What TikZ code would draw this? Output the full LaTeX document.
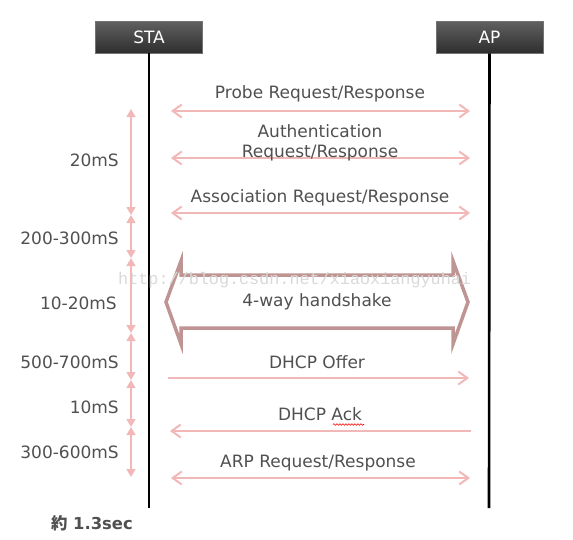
\documentclass[tikz,border=0pt]{standalone}
\usepackage{fontspec}
\setmainfont{DejaVu Sans}
\newfontfamily\cjk{Noto Sans CJK JP}
\newfontfamily\wmfont{Liberation Mono}
\usetikzlibrary{arrows.meta,decorations.pathmorphing}
\definecolor{pinkline}{HTML}{F2B8B8}
\definecolor{brownline}{HTML}{BF9593}
\definecolor{txtgray}{HTML}{505050}
\tikzset{
  hdr/.style={draw=black!55, line width=0.8pt, top color=black!62, bottom color=black!82,
     minimum width=107pt, minimum height=32pt, inner sep=0pt, text=white, font=\fontsize{17}{19}\selectfont},
  life/.style={line width=2.6pt, black},
  msg/.style={pinkline, line width=2pt},
  msgtip/.style={-{Straight Barb[length=9pt,width=13pt,line width=2pt]}},
  lbl/.style={text=txtgray, font=\fontsize{17}{20}\selectfont, inner sep=0pt, align=center},
  tl/.style={pinkline, line width=1.3pt, {Triangle[length=8pt,width=9pt]}-{Triangle[length=8pt,width=9pt]}},
  tlbl/.style={text=txtgray, font=\fontsize{17}{20}\selectfont, inner sep=0pt, anchor=east},
}
\begin{document}
\begin{tikzpicture}[x=1pt,y=-1pt]
\useasboundingbox (0,0) rectangle (573,539);
% header boxes
\node[hdr] (sta) at (149,37) {STA};
\node[hdr] (ap) at (489.5,37) {AP};
% lifelines
\coordinate (staEnd) at (149,508);
\coordinate (apEnd) at (489,508);
\draw[life] (sta.south) -- (staEnd);
\draw[life] (ap.south) -- (apEnd);
% messages
\coordinate (p1) at (171,111); \coordinate (p2) at (470,111);
\draw[msg, {Straight Barb[length=9pt,width=13pt,line width=2pt]}-{Straight Barb[length=9pt,width=13pt,line width=2pt]}] (p1) -- (p2);
\node[lbl] (probe) at (320,94) {Probe Request/Response};
\coordinate (a1) at (171,158); \coordinate (a2) at (470,158);
\draw[msg, {Straight Barb[length=9pt,width=13pt,line width=2pt]}-{Straight Barb[length=9pt,width=13pt,line width=2pt]}] (a1) -- (a2);
\node[lbl] (auth) at (320,143) {Authentication\\Request/Response};
\coordinate (s1) at (171,213); \coordinate (s2) at (470,213);
\draw[msg, {Straight Barb[length=9pt,width=13pt,line width=2pt]}-{Straight Barb[length=9pt,width=13pt,line width=2pt]}] (s1) -- (s2);
\node[lbl] (assoc) at (320,198) {Association Request/Response};
% 4-way handshake block arrow
\draw[brownline, line width=3.5pt, fill=white, line join=miter]
  (166,302) -- (181,261) -- (181,275) -- (453,275) -- (453,261) -- (468,302)
  -- (453,344) -- (453,328) -- (181,328) -- (181,344) -- cycle;
\node[lbl] (hs) at (317,302) {4-way handshake};
% watermark
\node[text=black!15, font=\wmfont\fontsize{16.8}{18}\selectfont, inner sep=0pt, anchor=west] (wm) at (118,280) {http://blog.csdn.net/xiaoxiangyuhai};
% DHCP offer
\coordinate (o1) at (168,378); \coordinate (o2) at (469,378);
\draw[msg, msgtip] (o1) -- (o2);
\node[lbl] (offer) at (317,362) {DHCP Offer};
% DHCP ack
\coordinate (k1) at (471,431); \coordinate (k2) at (170,431);
\draw[msg, msgtip] (k1) -- (k2);
\node[lbl] (ack) at (320,414) {DHCP Ack};
\draw[red, line width=0.6pt, decorate, decoration={snake, amplitude=0.8pt, segment length=3pt}] (333,424.5) -- (364,424.5);
% ARP
\coordinate (r1) at (171,478); \coordinate (r2) at (470,478);
\draw[msg, {Straight Barb[length=9pt,width=13pt,line width=2pt]}-{Straight Barb[length=9pt,width=13pt,line width=2pt]}] (r1) -- (r2);
\node[lbl] (arp) at (318,463) {ARP Request/Response};
% timeline
\coordinate (t0) at (131,109);
\coordinate (t1) at (131,215);
\coordinate (t2) at (131,258);
\coordinate (t3) at (131,333);
\coordinate (t4) at (131,380);
\coordinate (t5) at (131,427);
\coordinate (t6) at (131,477);
\draw[tl] (t0) -- (t1);
\draw[tl] (t1) -- (t2);
\draw[tl] (t2) -- (t3);
\draw[tl] (t3) -- (t4);
\draw[tl] (t4) -- (t5);
\draw[tl] (t5) -- (t6);
\node[tlbl] (d1) at (119,160) {20mS};
\node[tlbl] (d2) at (119,238) {200-300mS};
\node[tlbl] (d3) at (117,303) {10-20mS};
\node[tlbl] (d4) at (119,362) {500-700mS};
\node[tlbl] (d5) at (119,407) {10mS};
\node[tlbl] (d6) at (119,452) {300-600mS};
\node[tlbl, font=\fontsize{16.4}{18}\selectfont\bfseries] (total) at (133,523) {{\cjk 約} 1.3sec};
\end{tikzpicture}
\end{document}
